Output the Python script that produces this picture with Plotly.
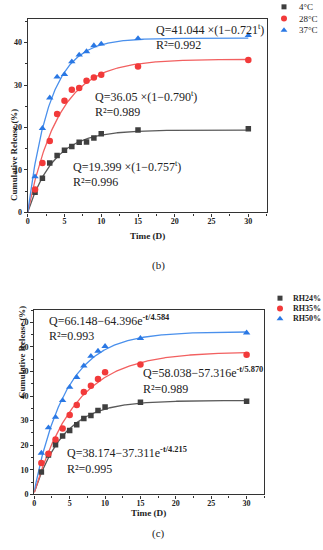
import numpy as np
import plotly.graph_objects as go

# ---------------- data ----------------
time_days = [1, 2, 3, 4, 5, 6, 7, 8, 9, 10, 15, 30]

temp_labels = ["4°C", "28°C", "37°C"]
q_4c = [4.7, 8.0, 11.6, 13.4, 14.6, 15.5, 16.5, 16.6, 17.5, 18.5, 19.4, 19.7]
q_28c = [5.4, 11.6, 16.8, 23.2, 26.3, 28.9, 29.3, 31.0, 31.8, 32.4, 34.4, 35.9]
q_37c = [8.4, 19.8, 27.0, 31.9, 32.5, 35.5, 37.1, 37.9, 39.3, 39.7, 41.0, 41.7]
temp_fit_A = [19.399, 36.05, 41.044]
temp_fit_b = [0.757, 0.790, 0.721]
temp_r2 = [0.996, 0.989, 0.992]

rh_labels = ["RH24%", "RH35%", "RH50%"]
q_rh24 = [9.1, 16.0, 20.2, 23.7, 26.0, 28.3, 30.8, 32.1, 34.1, 35.5, 37.5, 37.9]
q_rh35 = [12.7, 16.5, 22.3, 26.8, 32.3, 36.3, 41.6, 44.2, 46.9, 49.7, 52.8, 56.8]
q_rh50 = [16.8, 27.1, 31.4, 38.2, 43.6, 47.6, 52.3, 56.2, 58.3, 60.2, 63.5, 65.7]
rh_fit_A = [38.174, 58.038, 66.148]
rh_fit_B = [37.311, 57.316, 64.396]
rh_fit_tau = [4.215, 5.870, 4.584]
rh_r2 = [0.995, 0.989, 0.993]

panel_labels = ["(b)", "(c)"]

# ---------------- styles ----------------
marker_colors = ["#3f3f3f", "#f23a3a", "#2a78e4"]
line_colors = ["#5a5a5a", "#f26060", "#4a90ec"]
symbols = ["square", "circle", "triangle-up"]
msizes = [5.5, 6.5, 6.5]
SERIF = "Liberation Serif"

fig = go.Figure()
t_fine = np.linspace(0, 30, 301)

temp_series = [q_4c, q_28c, q_37c]
rh_series = [q_rh24, q_rh35, q_rh50]

# top panel fits + points
for i in range(3):
    fit = temp_fit_A[i] * (1 - temp_fit_b[i] ** t_fine)
    fig.add_trace(go.Scatter(x=t_fine, y=fit, mode="lines", xaxis="x", yaxis="y",
                             line=dict(color=line_colors[i], width=1.3),
                             showlegend=False, hoverinfo="skip"))
for i in range(3):
    fig.add_trace(go.Scatter(x=time_days, y=temp_series[i], mode="markers",
                             xaxis="x", yaxis="y", name=temp_labels[i], showlegend=False,
                             marker=dict(symbol=symbols[i], size=msizes[i],
                                         color=marker_colors[i])))

# bottom panel fits + points
for i in range(3):
    fit = rh_fit_A[i] - rh_fit_B[i] * np.exp(-t_fine / rh_fit_tau[i])
    fig.add_trace(go.Scatter(x=t_fine, y=fit, mode="lines", xaxis="x2", yaxis="y2",
                             line=dict(color=line_colors[i], width=1.3),
                             showlegend=False, hoverinfo="skip"))
for i in range(3):
    fig.add_trace(go.Scatter(x=time_days, y=rh_series[i], mode="markers",
                             xaxis="x2", yaxis="y2", name=rh_labels[i], showlegend=False,
                             marker=dict(symbol=symbols[i], size=msizes[i],
                                         color=marker_colors[i])))

# legend keys drawn on small hidden category axes (x3/y3 top, x4/y4 bottom)
for i in range(3):
    fig.add_trace(go.Scatter(x=[0], y=[temp_labels[i]], mode="markers", xaxis="x3", yaxis="y3",
                             showlegend=False, hoverinfo="skip", cliponaxis=False,
                             marker=dict(symbol=symbols[i], size=msizes[i] - 0.5,
                                         color=marker_colors[i])))
    fig.add_trace(go.Scatter(x=[0], y=[rh_labels[i]], mode="markers", xaxis="x4", yaxis="y4",
                             showlegend=False, hoverinfo="skip", cliponaxis=False,
                             marker=dict(symbol=symbols[i], size=msizes[i] - 0.5,
                                         color=marker_colors[i])))

W, H = 323, 550
def px(x):
    return x / W
def py(y):
    return 1 - y / H

axis_common = dict(showline=True, linecolor="#333333", linewidth=1.4, mirror=True,
                   ticks="outside", ticklen=3, tickwidth=1.2, tickcolor="#333333",
                   showgrid=False, zeroline=False,
                   tickfont=dict(family=SERIF, size=8, color="#222222", weight="bold"))
hidden = dict(visible=False, showgrid=False, zeroline=False, fixedrange=True)

fig.update_layout(
    width=W, height=H,
    margin=dict(l=0, r=0, t=0, b=0, autoexpand=False),
    paper_bgcolor="white", plot_bgcolor="white",
    showlegend=False,
    xaxis=dict(domain=[px(27.7), px(266.7)], range=[0, 32.5], anchor="y",
               dtick=5, ticklabelstandoff=-2,
               minor=dict(ticks="outside", dtick=2.5, ticklen=2,
                          tickcolor="#333333"), **axis_common),
    yaxis=dict(domain=[py(212.3), py(19.3)], range=[0, 45.5], anchor="x",
               dtick=10, minor=dict(ticks="outside", dtick=5, ticklen=2,
                                    tickcolor="#333333"), **axis_common),
    xaxis2=dict(domain=[px(34.3), px(264.3)], range=[0, 32.5], anchor="y2",
                dtick=5, ticklabelstandoff=-2,
                minor=dict(ticks="outside", dtick=2.5, ticklen=2,
                           tickcolor="#333333"), **axis_common),
    yaxis2=dict(domain=[py(494.3), py(310)], range=[0, 75], anchor="x2",
                dtick=10, minor=dict(ticks="outside", dtick=5, ticklen=2,
                                     tickcolor="#333333"), **axis_common),
    # legend axes
    xaxis3=dict(domain=[px(272), px(296)], range=[-1, 1], anchor="y3", **hidden),
    yaxis3=dict(domain=[py(36), py(1)], type="category", categoryarray=temp_labels,
                categoryorder="array", range=[2.5, -0.5], anchor="x3", **hidden),
    xaxis4=dict(domain=[px(268), px(292)], range=[-1, 1], anchor="y4", **hidden),
    yaxis4=dict(domain=[py(324), py(293)], type="category", categoryarray=rh_labels,
                categoryorder="array", range=[2.5, -0.5], anchor="x4", **hidden),
)

for i in range(3):
    fig.add_annotation(x=0, y=temp_labels[i], xref="x3", yref="y3", xanchor="left",
                       yanchor="middle", xshift=13, showarrow=False, text=temp_labels[i],
                       font=dict(family=SERIF, size=9, color="#222222"))
    fig.add_annotation(x=0, y=rh_labels[i], xref="x4", yref="y4", xanchor="left",
                       yanchor="middle", xshift=11, showarrow=False, text=rh_labels[i],
                       font=dict(family=SERIF, size=8, color="#222222", weight="bold"))

ann_font = dict(family=SERIF, size=12, color="#222222")
# top panel equations
top_pos = [(5.9, 10.9, 7.1), (8.84, 27.2, 23.7), (17.2, 43.1, 39.4)]
for i in range(3):
    x0, yq, yr = top_pos[i]
    fig.add_annotation(x=x0, y=yq, xref="x", yref="y", xanchor="left", yanchor="middle",
                       showarrow=False, font=ann_font,
                       text=f"Q={temp_fit_A[i]} ×(1−{temp_fit_b[i]:.3f}<sup>t</sup>)")
    fig.add_annotation(x=x0, y=yr, xref="x", yref="y", xanchor="left", yanchor="middle",
                       showarrow=False, font=ann_font, text=f"R²={temp_r2[i]:.3f}")

bot_pos = [(4.34, 17.0, 10.2), (15.1, 49.6, 42.7), (1.75, 70.6, 64.3)]
for i in range(3):
    x0, yq, yr = bot_pos[i]
    fig.add_annotation(x=x0, y=yq, xref="x2", yref="y2", xanchor="left", yanchor="middle",
                       showarrow=False, font=ann_font,
                       text=f"Q={rh_fit_A[i]:.3f}−{rh_fit_B[i]:.3f}e<sup><b>-t/{rh_fit_tau[i]:.3f}</b></sup>")
    fig.add_annotation(x=x0, y=yr, xref="x2", yref="y2", xanchor="left", yanchor="middle",
                       showarrow=False, font=ann_font, text=f"R²={rh_r2[i]:.3f}")

title_font = dict(family=SERIF, size=9.2, color="#222222", weight="bold")
# axis titles
fig.add_annotation(x=px(147), y=py(236), xref="paper", yref="paper", showarrow=False,
                   text="Time (D)", font=title_font, borderpad=0)
fig.add_annotation(x=px(148), y=py(519), xref="paper", yref="paper", showarrow=False,
                   text="Time (D)", font=title_font, borderpad=0)
fig.add_annotation(x=px(7), y=py(107), xref="paper", yref="paper", showarrow=False,
                   text="Cumulative Release (%)", textangle=-90,
                   font=dict(family=SERIF, size=8.9, color="#222222", weight="bold"))
fig.add_annotation(x=px(15), y=py(400), xref="paper", yref="paper", showarrow=False,
                   text="Cumulative Release (%)", textangle=-90,
                   font=dict(family=SERIF, size=8.9, color="#222222", weight="bold"))
# panel labels
fig.add_annotation(x=px(158), y=py(265), xref="paper", yref="paper", showarrow=False,
                   text=panel_labels[0], font=dict(family=SERIF, size=11, color="#222222"))
fig.add_annotation(x=px(158), y=py(542), xref="paper", yref="paper", showarrow=False,
                   text=panel_labels[1], font=dict(family=SERIF, size=11, color="#222222"))

fig.write_html(
    "out.html",
    config={"displayModeBar": False},
    post_script="document.body.style.margin='0';document.body.style.overflow='hidden';",
)
